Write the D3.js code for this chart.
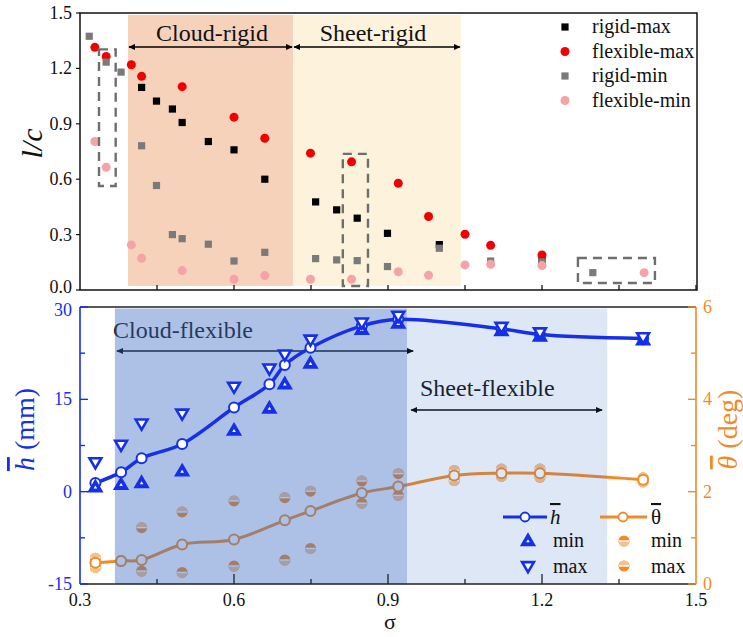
<!DOCTYPE html>
<html>
<head>
<meta charset="utf-8">
<script src="https://cdn.jsdelivr.net/npm/d3@7/dist/d3.min.js"></script>
<style>
  html, body { margin: 0; padding: 0; background: #fff; }
  svg { display: block; font-family: "Liberation Serif", "Times New Roman", serif; }
</style>
</head>
<body>
<svg id="chart" width="743" height="637"></svg>
<script>
// ---------- upper panel: l/c extremes ----------
const rigidMaxX = [0.420, 0.449, 0.480, 0.499, 0.550, 0.600, 0.660, 0.759, 0.800, 0.840, 0.899, 1.000, 1.200];
const rigidMax  = [1.097, 1.023, 0.980, 0.907, 0.804, 0.759, 0.600, 0.477, 0.434, 0.389, 0.307, 0.246, 0.168];

const flexMaxX = [0.329, 0.351, 0.400, 0.420, 0.499, 0.600, 0.660, 0.749, 0.829, 0.920, 0.979, 1.050, 1.100, 1.200];
const flexMax  = [1.314, 1.265, 1.220, 1.157, 1.101, 0.936, 0.822, 0.741, 0.694, 0.578, 0.398, 0.302, 0.242, 0.190];

const rigidMinX = [0.318, 0.351, 0.380, 0.420, 0.449, 0.480, 0.499, 0.550, 0.600, 0.660, 0.759, 0.800, 0.840, 0.899, 1.000, 1.100, 1.200, 1.299];
const rigidMin  = [1.374, 1.234, 1.180, 0.781, 0.566, 0.300, 0.278, 0.248, 0.157, 0.204, 0.170, 0.163, 0.159, 0.127, 0.226, 0.157, 0.152, 0.094];

const flexMinX = [0.329, 0.351, 0.400, 0.420, 0.499, 0.600, 0.660, 0.749, 0.829, 0.920, 0.979, 1.050, 1.100, 1.200, 1.399];
const flexMin  = [0.804, 0.665, 0.244, 0.172, 0.105, 0.058, 0.078, 0.058, 0.058, 0.099, 0.080, 0.136, 0.139, 0.132, 0.094];

const lcTicks = [0.0, 0.3, 0.6, 0.9, 1.2, 1.5];

// ---------- lower panel: mean height and angle ----------
const sigmaH = [0.330, 0.380, 0.420, 0.499, 0.600, 0.669, 0.699, 0.749, 0.849, 0.920, 1.121, 1.196, 1.397];
const hMean  = [1.39, 3.17, 5.43, 7.75, 13.67, 17.45, 20.57, 23.37, 26.93, 28.0, 26.44, 25.53, 24.88];
const hMin   = [0.7, 1.12, 1.39, 3.28, 9.9, 13.5, 17.45, 20.8, 26.3, 27.3, 26.1, 25.2, 24.6];
const hMax   = [4.8, 7.64, 11.09, 12.7, 17.07, 20.03, 22.3, 24.72, 27.5, 28.6, 26.8, 25.9, 25.1];

const sigmaT = [0.330, 0.380, 0.420, 0.499, 0.600, 0.699, 0.749, 0.849, 0.920, 1.029, 1.121, 1.196, 1.397];
const thMean = [0.46, 0.50, 0.52, 0.855, 0.963, 1.38, 1.58, 1.97, 2.11, 2.35, 2.40, 2.40, 2.26];
const thMin  = [0.36, 0.49, 0.28, 0.25, 0.39, 0.52, 0.77, 1.75, 1.92, 2.24, 2.33, 2.31, 2.21];
const thMax  = [0.56, 0.51, 1.22, 1.56, 1.80, 1.87, 2.01, 2.23, 2.39, 2.46, 2.49, 2.49, 2.30];

const sigmaTicks = [0.3, 0.6, 0.9, 1.2, 1.5];
const hTicks = [-15, 0, 15, 30];
const thTicks = [0, 2, 4, 6];

// regime bands (sigma ranges)
const rigidBands = [
  { name: "Cloud-rigid", x0: 0.3935, x1: 0.715, fill: "#f7d2bb" },
  { name: "Sheet-rigid", x0: 0.715, x1: 1.042, fill: "#fdf3dc" }
];
const flexBands = [
  { name: "Cloud-flexible", x0: 0.368, x1: 0.937, opacity: 0.43 },
  { name: "Sheet-flexible", x0: 0.937, x1: 1.327, opacity: 0.17 }
];
// dashed boxes around grouped points: [sigma0, sigma1, lc0, lc1]
const dashBoxes = [
  [0.337, 0.3695, 0.563, 1.303],
  [0.812, 0.861, 0.022, 0.737],
  [1.270, 1.420, 0.038, 0.173]
];

// ---------- layout ----------
const svg = d3.select("#chart");
const L = 80, R = 696;
const topT = 13, topB = 290;
const botT = 307, botB = 584;

const x = d3.scaleLinear().domain([0.3, 1.5]).range([L, R]);
const yLc = d3.scaleLinear().domain([0, 1.5]).range([topB, topT]);
const yH = d3.scaleLinear().domain([-15, 30]).range([botB, botT]);
const yTh = d3.scaleLinear().domain([0, 6]).range([botB, botT]);

const BLUE = "#1530e8", ORANGE = "#f28a26", ORANGE_L = "#f8c08c";

const defs = svg.append("defs");
function arrowMarker(id, color) {
  defs.append("marker").attr("id", id)
    .attr("viewBox", "0 0 10 10").attr("refX", 9).attr("refY", 5)
    .attr("markerWidth", 7).attr("markerHeight", 7)
    .attr("markerUnits", "userSpaceOnUse")
    .attr("orient", "auto-start-reverse")
    .append("path").attr("d", "M0,0.5 L10,5 L0,9.5 Z").attr("fill", color);
}
arrowMarker("arr", "#000");

// ================= upper panel =================
const gTop = svg.append("g");
gTop.selectAll("rect.band").data(rigidBands).enter().append("rect")
  .attr("x", d => x(d.x0)).attr("width", d => x(d.x1) - x(d.x0))
  .attr("y", yLc(1.49)).attr("height", yLc(0.022) - yLc(1.49))
  .attr("fill", d => d.fill);

// frame
gTop.append("rect").attr("x", L).attr("y", topT).attr("width", R + 1 - L).attr("height", topB - topT)
  .attr("fill", "none").attr("stroke", "#111").attr("stroke-width", 1.5);

// bottom ticks (inward)
const minorSig = d3.range(0.45, 1.5, 0.15);
gTop.selectAll("line.xt").data(minorSig).enter().append("line")
  .attr("x1", d => x(d)).attr("x2", d => x(d)).attr("y1", topB).attr("y2", topB - 5)
  .attr("stroke", "#111").attr("stroke-width", 1.3);

// left axis ticks + labels
gTop.selectAll("line.yt").data(lcTicks).enter().append("line")
  .attr("x1", L - 4).attr("x2", L).attr("y1", d => yLc(d)).attr("y2", d => yLc(d))
  .attr("stroke", "#111").attr("stroke-width", 1.2);
gTop.selectAll("text.yl").data(lcTicks).enter().append("text")
  .attr("x", L - 8).attr("y", d => yLc(d) + (d === 0 ? 3 : 6)).attr("text-anchor", "end")
  .attr("font-size", 18).attr("fill", "#111").text(d => d.toFixed(1));

gTop.append("text").attr("transform", `translate(42,${(topT + topB) / 2 - 8}) rotate(-90)`)
  .attr("text-anchor", "middle").attr("font-size", 30).attr("font-style", "italic").attr("fill", "#111")
  .text("l/c");

// band labels and arrows
const arrowY = 47;
rigidBands.forEach(b => {
  gTop.append("line").attr("x1", x(b.x0) + 1).attr("x2", x(b.x1) - 1)
    .attr("y1", arrowY).attr("y2", arrowY).attr("stroke", "#000").attr("stroke-width", 1.5)
    .attr("marker-start", "url(#arr)").attr("marker-end", "url(#arr)");
});
gTop.append("text").attr("x", 212).attr("y", 41).attr("text-anchor", "middle")
  .attr("font-size", 24).attr("fill", "#111").text("Cloud-rigid");
gTop.append("text").attr("x", 373).attr("y", 41).attr("text-anchor", "middle")
  .attr("font-size", 24).attr("fill", "#111").text("Sheet-rigid");

// scatter series
function squares(xs, vs, color) {
  gTop.append("g").selectAll("rect").data(xs).enter().append("rect")
    .attr("x", (d, i) => x(d) - 3.6).attr("y", (d, i) => yLc(vs[i]) - 3.6)
    .attr("width", 7.2).attr("height", 7.2).attr("fill", color);
}
function dots(xs, vs, color) {
  gTop.append("g").selectAll("circle").data(xs).enter().append("circle")
    .attr("cx", d => x(d)).attr("cy", (d, i) => yLc(vs[i])).attr("r", 4.5).attr("fill", color);
}
squares(rigidMaxX, rigidMax, "#000");
dots(flexMaxX, flexMax, "#f20000");
squares(rigidMinX, rigidMin, "#7a7a7a");
dots(flexMinX, flexMin, "#f5a3a6");

// dashed boxes
gTop.selectAll("rect.box").data(dashBoxes).enter().append("rect")
  .attr("x", d => x(d[0])).attr("width", d => x(d[1]) - x(d[0]))
  .attr("y", d => yLc(d[3])).attr("height", d => yLc(d[2]) - yLc(d[3]))
  .attr("fill", "none").attr("stroke", "#6e6e6e").attr("stroke-width", 2.4)
  .attr("stroke-dasharray", "9,6");

// legend
const legTop = [
  { label: "rigid-max", shape: "sq", color: "#000" },
  { label: "flexible-max", shape: "ci", color: "#f20000" },
  { label: "rigid-min", shape: "sq", color: "#7a7a7a" },
  { label: "flexible-min", shape: "ci", color: "#f5a3a6" }
];
legTop.forEach((d, i) => {
  const cy = 27 + i * 24.5;
  if (d.shape === "sq") gTop.append("rect").attr("x", 565 - 3.6).attr("y", cy - 3.6).attr("width", 7.2).attr("height", 7.2).attr("fill", d.color);
  else gTop.append("circle").attr("cx", 565).attr("cy", cy).attr("r", 4.5).attr("fill", d.color);
  gTop.append("text").attr("x", 592).attr("y", cy + 6).attr("font-size", 20).attr("fill", "#111").text(d.label);
});

// ================= lower panel =================
const gBot = svg.append("g");
const line = d3.line().curve(d3.curveCatmullRom.alpha(0.5));

// angle series (beneath the shaded bands)
const gTh = gBot.append("g");
gTh.append("path").attr("d", line(sigmaT.map((s, i) => [x(s), yTh(thMean[i])])))
  .attr("fill", "none").attr("stroke", ORANGE).attr("stroke-width", 3);

function halfCircle(g, cx, cy, topDark) {
  const r = 5.5;
  g.append("circle").attr("cx", cx).attr("cy", cy).attr("r", r).attr("fill", ORANGE);
  g.append("path")
    .attr("d", topDark
      ? `M${cx - r},${cy} A${r},${r} 0 0 0 ${cx + r},${cy} Z`
      : `M${cx - r},${cy} A${r},${r} 0 0 1 ${cx + r},${cy} Z`)
    .attr("fill", ORANGE_L);
  g.append("line").attr("x1", cx - r + 0.5).attr("x2", cx + r - 0.5).attr("y1", cy).attr("y2", cy)
    .attr("stroke", "#fff").attr("stroke-width", 1.4);
}
sigmaT.forEach((s, i) => {
  halfCircle(gTh, x(s), yTh(thMin[i]), true);
  halfCircle(gTh, x(s), yTh(thMax[i]), false);
});
gTh.selectAll("circle.m").data(sigmaT).enter().append("circle")
  .attr("cx", d => x(d)).attr("cy", (d, i) => yTh(thMean[i])).attr("r", 5)
  .attr("fill", "#fff").attr("stroke", ORANGE).attr("stroke-width", 2);

// arrows + region labels (beneath the shaded bands)
const arrowY2 = 351, arrowY3 = 410;
gBot.append("line").attr("x1", x(0.368) + 2).attr("x2", x(0.949)).attr("y1", arrowY2).attr("y2", arrowY2)
  .attr("stroke", "#000").attr("stroke-width", 1.5)
  .attr("marker-start", "url(#arr)").attr("marker-end", "url(#arr)");
gBot.append("line").attr("x1", x(0.945)).attr("x2", x(1.317)).attr("y1", arrowY3).attr("y2", arrowY3)
  .attr("stroke", "#000").attr("stroke-width", 1.5)
  .attr("marker-start", "url(#arr)").attr("marker-end", "url(#arr)");
gBot.append("text").attr("x", 113).attr("y", 338).attr("font-size", 24).attr("fill", "#111").text("Cloud-flexible");
gBot.append("text").attr("x", 420).attr("y", 396).attr("font-size", 24).attr("fill", "#111").text("Sheet-flexible");

// shaded regime bands (translucent)
gBot.selectAll("rect.band").data(flexBands).enter().append("rect")
  .attr("x", d => x(d.x0)).attr("width", d => x(d.x1) - x(d.x0))
  .attr("y", botT + 1.5).attr("height", botB - botT - 1.5)
  .attr("fill", "rgb(62,111,195)").attr("fill-opacity", d => d.opacity);

// height series (above the bands)
const gH = gBot.append("g");
gH.append("path").attr("d", line(sigmaH.map((s, i) => [x(s), yH(hMean[i])])))
  .attr("fill", "none").attr("stroke", BLUE).attr("stroke-width", 3.5);

function tri(g, cx, cy, up, filled) {
  const s = 6.2;
  const d = up
    ? `M${cx},${cy - s} L${cx + s * 0.95},${cy + s * 0.62} L${cx - s * 0.95},${cy + s * 0.62} Z`
    : `M${cx},${cy + s} L${cx + s * 0.95},${cy - s * 0.62} L${cx - s * 0.95},${cy - s * 0.62} Z`;
  g.append("path").attr("d", d).attr("fill", filled ? BLUE : "#fff")
    .attr("stroke", BLUE).attr("stroke-width", 2.6).attr("stroke-linejoin", "miter");
  if (filled) {
    const k = 1.8;
    const di = up
      ? `M${cx},${cy - k} L${cx + k},${cy + k * 0.7} L${cx - k},${cy + k * 0.7} Z`
      : `M${cx},${cy + k} L${cx + k},${cy - k * 0.7} L${cx - k},${cy - k * 0.7} Z`;
    g.append("path").attr("d", di).attr("fill", "#fff");
  }
}
gH.selectAll("circle.m").data(sigmaH).enter().append("circle")
  .attr("cx", d => x(d)).attr("cy", (d, i) => yH(hMean[i])).attr("r", 5)
  .attr("fill", "#fff").attr("stroke", BLUE).attr("stroke-width", 2);
sigmaH.forEach((s, i) => {
  tri(gH, x(s), yH(hMin[i]), true, true);
  tri(gH, x(s), yH(hMax[i]), false, false);
});

// frame: top and bottom black, left blue, right orange
gBot.append("line").attr("x1", L).attr("x2", R).attr("y1", botT).attr("y2", botT).attr("stroke", "#222").attr("stroke-width", 1.5);
gBot.append("line").attr("x1", L).attr("x2", R).attr("y1", botB).attr("y2", botB).attr("stroke", "#222").attr("stroke-width", 1.5);
gBot.append("line").attr("x1", L).attr("x2", L).attr("y1", botT).attr("y2", botB).attr("stroke", BLUE).attr("stroke-width", 1.6);
gBot.append("line").attr("x1", R).attr("x2", R).attr("y1", botT).attr("y2", botB).attr("stroke", ORANGE).attr("stroke-width", 1.6);

// x axis ticks & labels
const xMinor = d3.range(0.45, 1.5, 0.3);
gBot.selectAll("line.xM").data(sigmaTicks.slice(1, -1)).enter().append("line")
  .attr("x1", d => x(d)).attr("x2", d => x(d)).attr("y1", botB).attr("y2", botB - 10)
  .attr("stroke", "#222").attr("stroke-width", 1.3);
gBot.selectAll("line.xm").data(xMinor).enter().append("line")
  .attr("x1", d => x(d)).attr("x2", d => x(d)).attr("y1", botB).attr("y2", botB - 5)
  .attr("stroke", "#222").attr("stroke-width", 1.3);
gBot.selectAll("text.xl").data(sigmaTicks).enter().append("text")
  .attr("x", d => x(d)).attr("y", 606).attr("text-anchor", "middle")
  .attr("font-size", 18).attr("fill", "#111").text(d => d.toFixed(1));
gBot.append("text").attr("x", 390).attr("y", 629).attr("text-anchor", "middle")
  .attr("font-size", 22).attr("fill", "#111").text("σ");

// left axis (height)
gBot.selectAll("line.hM").data(hTicks).enter().append("line")
  .attr("x1", L).attr("x2", L + 8).attr("y1", d => yH(d)).attr("y2", d => yH(d))
  .attr("stroke", BLUE).attr("stroke-width", 1.4);
gBot.selectAll("line.hm").data([-7.5, 7.5, 22.5]).enter().append("line")
  .attr("x1", L).attr("x2", L + 5).attr("y1", d => yH(d)).attr("y2", d => yH(d))
  .attr("stroke", BLUE).attr("stroke-width", 1.4);
gBot.selectAll("text.hl").data(hTicks).enter().append("text")
  .attr("x", L - 8).attr("y", d => yH(d) + (d === 30 ? 9 : 6)).attr("text-anchor", "end")
  .attr("font-size", 18).attr("fill", BLUE).text(d => d);
const hLab = gBot.append("text").attr("transform", `translate(34,${(botT + botB) / 2 - 16}) rotate(-90)`)
  .attr("text-anchor", "middle").attr("font-size", 28).attr("fill", BLUE);
hLab.append("tspan").attr("font-style", "italic").attr("text-decoration", "overline").text("h");
hLab.append("tspan").text(" (mm)");

// right axis (angle)
gBot.selectAll("line.tM").data(thTicks).enter().append("line")
  .attr("x1", R).attr("x2", R - 8).attr("y1", d => yTh(d)).attr("y2", d => yTh(d))
  .attr("stroke", ORANGE).attr("stroke-width", 1.4);
gBot.selectAll("line.tm").data([1, 3, 5]).enter().append("line")
  .attr("x1", R).attr("x2", R - 5).attr("y1", d => yTh(d)).attr("y2", d => yTh(d))
  .attr("stroke", ORANGE).attr("stroke-width", 1.4);
gBot.selectAll("text.tl").data(thTicks).enter().append("text")
  .attr("x", 703).attr("y", d => yTh(d) + 6).attr("text-anchor", "start")
  .attr("font-size", 18).attr("fill", ORANGE).text(d => d);
const tLab = gBot.append("text").attr("transform", `translate(737,${(botT + botB) / 2 - 16}) rotate(-90)`)
  .attr("text-anchor", "middle").attr("font-size", 28).attr("fill", ORANGE);
tLab.append("tspan").attr("font-style", "italic").attr("text-decoration", "overline").text("θ");
tLab.append("tspan").text(" (deg)");

// legend
const gLeg = gBot.append("g");
gLeg.append("line").attr("x1", 503).attr("x2", 547).attr("y1", 517).attr("y2", 517).attr("stroke", BLUE).attr("stroke-width", 3);
gLeg.append("circle").attr("cx", 525).attr("cy", 517).attr("r", 4.5).attr("fill", "#fff").attr("stroke", BLUE).attr("stroke-width", 1.8);
gLeg.append("text").attr("x", 550).attr("y", 524).attr("font-size", 21).attr("font-style", "italic")
  .attr("text-decoration", "overline").attr("fill", "#111").text("h");
gLeg.append("line").attr("x1", 600).attr("x2", 647).attr("y1", 517).attr("y2", 517).attr("stroke", ORANGE).attr("stroke-width", 3);
gLeg.append("circle").attr("cx", 623).attr("cy", 517).attr("r", 4.5).attr("fill", "#fff").attr("stroke", ORANGE).attr("stroke-width", 1.8);
gLeg.append("text").attr("x", 651).attr("y", 524).attr("font-size", 21)
  .attr("text-decoration", "overline").attr("fill", "#111").text("θ");
tri(gLeg, 528, 541, true, true);
tri(gLeg, 528, 566, false, false);
halfCircle(gLeg, 624, 541, true);
halfCircle(gLeg, 624, 566, false);
gLeg.append("text").attr("x", 553).attr("y", 547).attr("font-size", 20).attr("fill", "#111").text("min");
gLeg.append("text").attr("x", 553).attr("y", 573).attr("font-size", 20).attr("fill", "#111").text("max");
gLeg.append("text").attr("x", 651).attr("y", 547).attr("font-size", 20).attr("fill", "#111").text("min");
gLeg.append("text").attr("x", 651).attr("y", 573).attr("font-size", 20).attr("fill", "#111").text("max");
</script>
</body>
</html>
